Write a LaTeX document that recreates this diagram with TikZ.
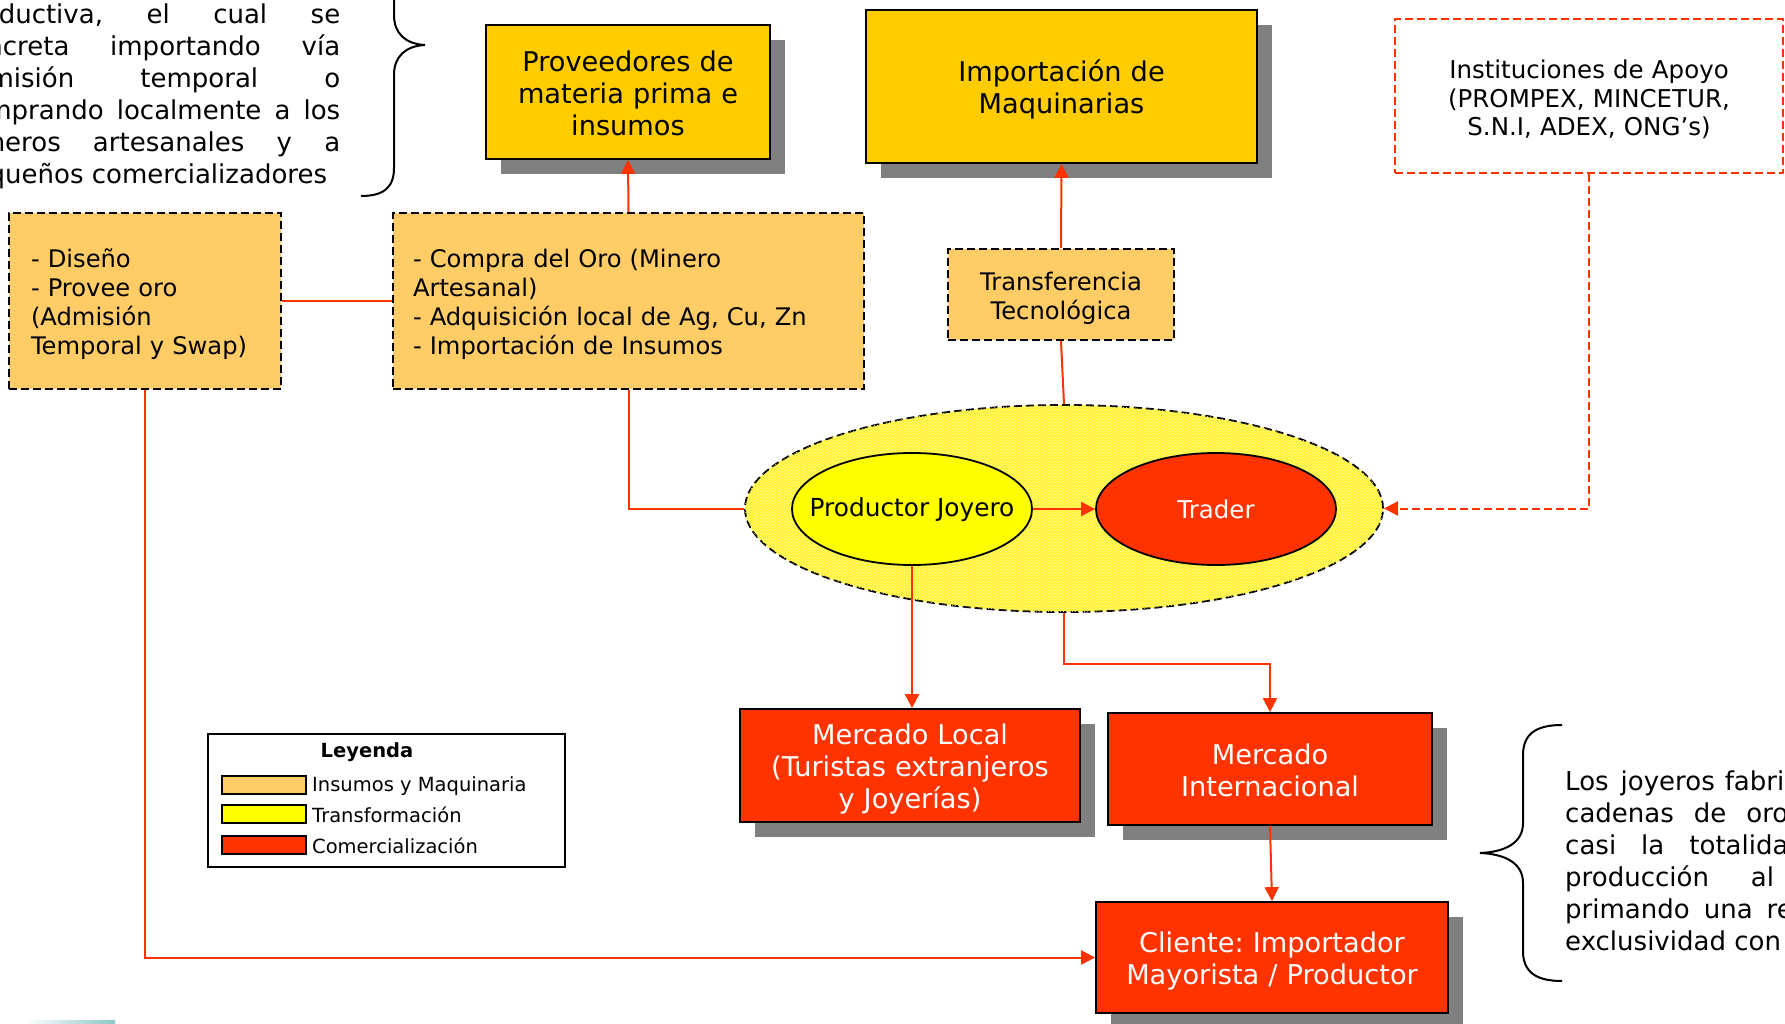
\documentclass[tikz,border=0pt]{standalone}
\usepackage{fontspec}
\setmainfont{DejaVu Sans}
\usetikzlibrary{arrows.meta,shadows,patterns,shapes.geometric}
\frenchspacing

\definecolor{gold}{HTML}{FFCC00}
\definecolor{sand}{HTML}{FFCC66}
\definecolor{flame}{HTML}{FF3300}
\definecolor{lemon}{HTML}{FFFF00}
\definecolor{paleyellow}{HTML}{FFF23C}
\definecolor{shadowgray}{HTML}{808080}

\tikzset{
  % a taller first line lowers the text block a little inside its box
  textdrop/.style={execute at begin node={\rule{0pt}{#1}}},
  boxshadow/.style={drop shadow={shadow xshift=15pt, shadow yshift=-15pt, fill=shadowgray, opacity=1}},
  solidbox/.style={draw=black, line width=1.8pt, inner ysep=0pt, inner xsep=10pt, align=center, boxshadow,
    font=\fontsize{27.2}{32}\selectfont, textdrop=#1},
  solidbox/.default=27.7pt,
  goldbox/.style={solidbox=#1, fill=gold},
  goldbox/.default=27.7pt,
  redbox/.style={solidbox=#1, fill=flame, text=white},
  redbox/.default=27.7pt,
  dashline/.style={dash pattern=on 8pt off 4pt},
  sandbox/.style={draw=black, line width=1.8pt, dashline, fill=sand, inner ysep=0pt,
    font=\fontsize{24.2}{29}\selectfont, textdrop=25.5pt},
  instbox/.style={draw=flame, line width=1.8pt, dashline, inner ysep=0pt, inner xsep=10pt, align=center,
    font=\fontsize{24.5}{28.5}\selectfont, textdrop=26pt},
  oval/.style={ellipse, draw=black, line width=1.8pt, inner sep=0pt,
    minimum width=240pt, minimum height=112pt},
  link/.style={draw=flame, line width=2pt},
  tip/.style={-{Triangle[length=14pt,width=14pt]}},
  para/.style={inner sep=0pt, align=left, font=\fontsize{26}{32}\selectfont},
  swatch/.style={draw=black, line width=1.2pt, inner sep=0pt, minimum width=84pt, minimum height=18pt},
  legtext/.style={anchor=west, inner sep=0pt, font=\fontsize{19.5}{23}\selectfont},
  bracestroke/.style={draw=black, line width=2pt},
}

\begin{document}
\begin{tikzpicture}[x=1pt, y=-1pt]
  \useasboundingbox (0,0) rectangle (1785,1024);
  \clip (0,0) rectangle (1785,1024);

  % side notes with their braces
  \node[para, anchor=north west] (leftnote) at (-44,4) {%
    \makebox[384pt][l]{productiva,\hfill el\hfill cual\hfill se}\\
    \makebox[384pt][l]{concreta\hfill importando\hfill vía}\\
    \makebox[384pt][l]{admisión\hfill temporal\hfill o}\\
    \makebox[384pt][l]{comprando\hfill localmente\hfill a\hfill los}\\
    \makebox[384pt][l]{mineros\hfill artesanales\hfill y\hfill a}\\
    pequeños comercializadores};
  \draw[bracestroke] (361,196) .. controls (383,196) and (394,188) .. (394,168)
    -- (394,75) .. controls (394,57) and (405,46) .. (425,45)
    .. controls (405,44) and (394,33) .. (394,15)
    -- (394,-78) .. controls (394,-98) and (383,-106) .. (361,-106);

  \node[para, anchor=north west] (rightnote) at (1565,771) {%
    Los\hspace{12pt}joyeros\hspace{10pt}fabrican\\
    cadenas\hspace{20pt}de\hspace{20pt}oro\\
    casi\hspace{25pt}la\hspace{25pt}totalidad\\
    producción\hspace{42pt}al\hspace{42pt}exterior,\\
    primando\hspace{14pt}una\hspace{14pt}relación\\
    exclusividad con el cliente};
  \draw[bracestroke] (1562,725) .. controls (1536,725) and (1523,734) .. (1523,755)
    -- (1523,823) .. controls (1523,843) and (1505,852) .. (1480,853)
    .. controls (1505,854) and (1523,863) .. (1523,883)
    -- (1523,951) .. controls (1523,972) and (1536,981) .. (1562,981);

  % suppliers and machinery
  \node[goldbox=23pt, text width=264pt, minimum height=134pt] (prov) at (628,92)
    {Proveedores de\\materia prima e\\insumos};
  \node[goldbox, text width=371pt, minimum height=153pt] (imp) at (1061.5,86.5)
    {Importación de\\Maquinarias};
  \node[instbox, text width=368pt, minimum height=154pt] (inst) at (1589,96)
    {Instituciones de Apoyo\\(PROMPEX, MINCETUR,\\S.N.I, ADEX, ONG’s)};

  % inputs
  \node[sandbox, align=left, text width=228pt, inner xsep=22pt, minimum height=176pt] (dis) at (145,301)
    {- Diseño\\- Provee oro\\(Admisión\\Temporal y Swap)};
  \node[sandbox, align=left, text width=431pt, inner xsep=20pt, minimum height=176pt] (comp) at (628.5,301)
    {- Compra del Oro (Minero\\Artesanal)\\- Adquisición local de Ag, Cu, Zn\\- Importación de Insumos};
  \node[sandbox, align=center, text width=206pt, inner xsep=10pt, minimum height=91pt] (trans) at (1061,294.5)
    {Transferencia\\Tecnológica};

  % transformation cluster
  \node[ellipse, draw=black, line width=1.8pt, dashline, fill=paleyellow,
        postaction={pattern=crosshatch dots, pattern color=white!70!yellow},
        inner sep=0pt, minimum width=638pt, minimum height=207pt] (cluster) at (1064,508.5) {};
  \node[oval, fill=lemon] (prod) at (912,509) {};
  \node[inner sep=0pt, font=\fontsize{24.8}{28}\selectfont] (prodtext) at (912,510) {Productor Joyero};
  \node[oval, fill=flame, text=white, font=\fontsize{24.5}{28}\selectfont] (trad) at (1216,509) {Trader};

  % markets
  \node[redbox, text width=320pt, minimum height=113pt] (mloc) at (910,765.5)
    {Mercado Local\\(Turistas extranjeros\\y Joyerías)};
  \node[redbox=23pt, text width=304pt, minimum height=112pt] (mint) at (1270,769)
    {Mercado\\Internacional};
  \node[redbox, text width=332pt, minimum height=111pt] (cli) at (1272,957.5)
    {Cliente: Importador\\Mayorista / Productor};

  % legend
  \node[draw=black, line width=1.5pt, inner sep=0pt, minimum width=357pt, minimum height=133pt] (legend) at (386.5,800.5) {};
  \node[inner sep=0pt, font=\bfseries\fontsize{19.5}{23}\selectfont] (legtitle) at (367,752) {Leyenda};
  \node[swatch, fill=sand] (sw1) at (264,785) {};
  \node[swatch, fill=lemon] (sw2) at (264,814) {};
  \node[swatch, fill=flame] (sw3) at (264,845) {};
  \node[legtext] (lt1) at (312,786) {Insumos y Maquinaria};
  \node[legtext] (lt2) at (312,815) {Transformación};
  \node[legtext] (lt3) at (312,846) {Comercialización};

  % connectors
  \draw[link, tip] (comp.north) -- (prov.south);
  \draw[link] (dis.east) -- (comp.west);
  \draw[link] (comp.south) |- (cluster.west);
  \draw[link, tip] (trans.north) -- (imp.south);
  \draw[link] (trans.south) -- (cluster.north);
  \draw[link, tip] (prod.east) -- (trad.west);
  \draw[link, dashline, tip] (inst.south) |- (cluster.east);
  \draw[link, tip] (prod.south) -- (prod.south |- mloc.north);
  \draw[link, tip] (cluster.south) -- ++(0,51) -| (mint.north);
  \draw[link, tip] (mint.south) -- (cli.north);
  \draw[link, tip] (dis.south) |- (cli.west);

  % small colour streak at the lower left edge
  \shade[left color=white, middle color=violet!35, right color=teal!45] (25,1020) rectangle (115,1024);
\end{tikzpicture}
\end{document}
